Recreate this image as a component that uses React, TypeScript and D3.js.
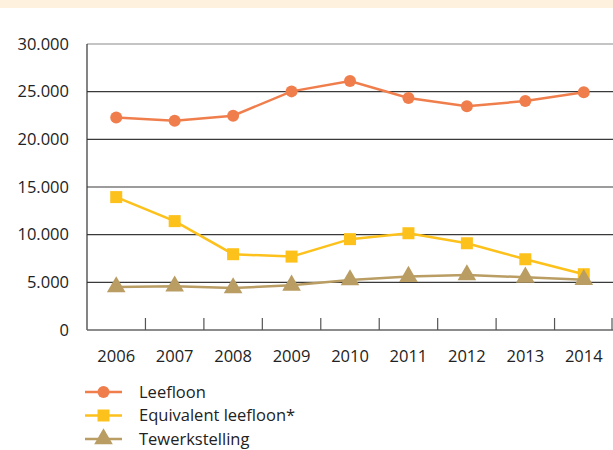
import React from "react";
import * as d3 from "d3";

const years = ["2006", "2007", "2008", "2009", "2010", "2011", "2012", "2013", "2014"];
const leefloon = [22300, 21950, 22480, 25030, 26120, 24340, 23460, 24020, 24930];
const equivalent = [13940, 11420, 7950, 7700, 9530, 10150, 9100, 7420, 5850];
const tewerkstelling = [4520, 4590, 4410, 4690, 5250, 5600, 5780, 5530, 5280];
const yTicks = [0, 5000, 10000, 15000, 20000, 25000, 30000];
const seriesNames = ["Leefloon", "Equivalent leefloon*", "Tewerkstelling"];

const W = 613, H = 450;
const m = { left: 87, right: 613, top: 44, bottom: 330 };
const font = "'Open Sans', sans-serif";
const fs = 16.5;

export default function App() {
  const x = d3.scaleBand().domain(years).range([m.left, m.right]);
  const y = d3.scaleLinear().domain([0, 30000]).range([m.bottom, m.top]);
  const cx = (d: string) => (x(d) as number) + x.bandwidth() / 2;
  const line = d3.line<number>().x((_, i) => cx(years[i])).y((v) => y(v));
  const fmt = (v: number) => (v === 0 ? "0" : d3.format(",")(v).replace(/,/g, "."));

  const series = [
    { name: seriesNames[0], data: leefloon, color: "#F07E4C", shape: "circle" },
    { name: seriesNames[1], data: equivalent, color: "#FDC11C", shape: "square" },
    { name: seriesNames[2], data: tewerkstelling, color: "#B99D63", shape: "triangle" },
  ];

  const marker = (shape: string, px: number, py: number, color: string, key: any) => {
    if (shape === "circle") return <circle key={key} cx={px} cy={py} r={6} fill={color} />;
    if (shape === "square") return <rect key={key} x={px - 6} y={py - 6} width={12} height={12} fill={color} />;
    const tri = d3.symbol().type(d3.symbolTriangle).size(150)();
    return <path key={key} d={tri as string} transform={`translate(${px},${py})`} fill={color} />;
  };

  return (
    <svg width={W} height={H} style={{ position: "absolute", left: 0, top: 0, background: "#fff" }}>
      <rect x={0} y={0} width={W} height={8} fill="#FEF2DF" />
      {yTicks.map((t) => (
        <g key={t}>
          {t > 0 && (
            <line x1={m.left} x2={m.right} y1={y(t)} y2={y(t)} stroke={t === 30000 ? "#8a8a8a" : "#3a3a3a"} strokeWidth={1.2} />
          )}
          <text x={69} y={y(t)} dy="0.35em" textAnchor="end" fontFamily={font} fontSize={fs} fill="#222">
            {fmt(t)}
          </text>
        </g>
      ))}
      <line x1={m.left} x2={m.left} y1={m.top} y2={m.bottom} stroke="#333" strokeWidth={1.2} />
      <line x1={m.left} x2={m.right} y1={m.bottom} y2={m.bottom} stroke="#666" strokeWidth={1.5} />
      {years.slice(1).map((yr) => (
        <line key={yr} x1={x(yr) as number} x2={x(yr) as number} y1={m.bottom - 12} y2={m.bottom} stroke="#555" strokeWidth={1.2} />
      ))}
      <line x1={m.right - 1} x2={m.right - 1} y1={m.bottom - 12} y2={m.bottom} stroke="#555" strokeWidth={1.2} />
      {years.map((yr) => (
        <text key={yr} x={cx(yr)} y={362} textAnchor="middle" fontFamily={font} fontSize={fs} fill="#222">
          {yr}
        </text>
      ))}
      {series.map((s) => (
        <g key={s.name}>
          <path d={line(s.data) as string} fill="none" stroke={s.color} strokeWidth={2.5} />
          {s.data.map((v, i) => marker(s.shape, cx(years[i]), y(v), s.color, i))}
        </g>
      ))}
      {series.map((s, i) => {
        const ly = 392 + i * 23.5;
        return (
          <g key={s.name}>
            <line x1={85} x2={122} y1={ly} y2={ly} stroke={s.color} strokeWidth={2.5} />
            {marker(s.shape, 103.5, ly, s.color, "m")}
            <text x={139} y={ly} dy="0.35em" fontFamily={font} fontSize={fs} fill="#222">
              {s.name}
            </text>
          </g>
        );
      })}
    </svg>
  );
}
